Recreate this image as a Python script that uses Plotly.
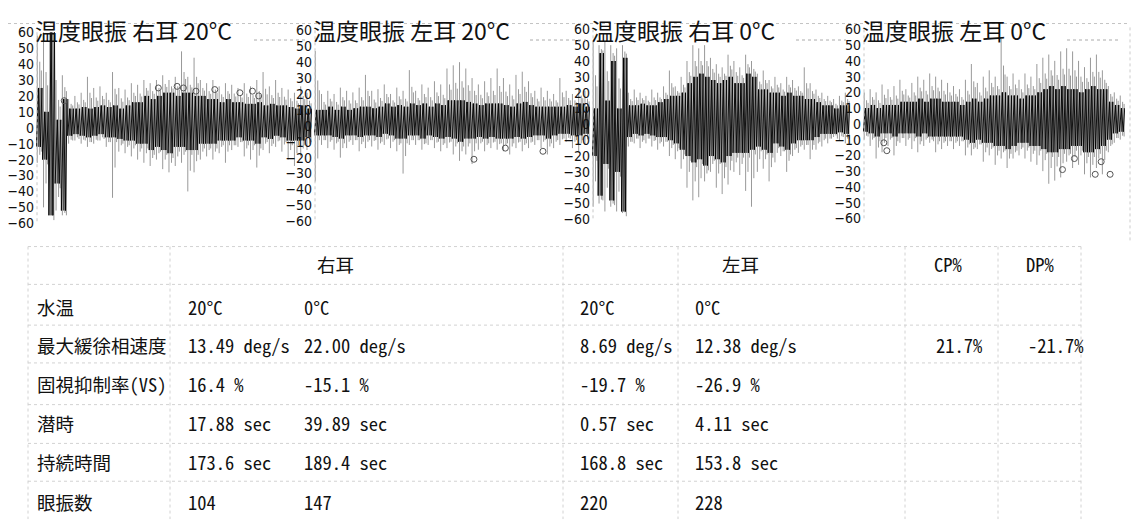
import plotly.graph_objects as go

# ---------------- signal envelopes (deg/s) ----------------
# Panel 1: 右耳 20°C
p1_out_hi = [58, 60, 60, 30, 33, 18, 20, 22, 32, 25, 26, 22, 35, 25, 24, 28, 27, 30, 28, 30, 33, 30,
             32, 48, 32, 44, 30, 28, 30, 26, 28, 27, 25, 28, 26, 30, 35, 26, 30, 25, 24, 22, 26, 22]
p1_out_lo = [-22, -50, -55, -52, -55, -10, -8, -10, -12, -10, -8, -12, -44, -15, -16, -18, -20, -22, -24, -20, -26, -28,
             -24, -22, -40, -28, -20, -18, -20, -16, -22, -14, -12, -18, -20, -25, -14, -16, -12, -15, -20, -24, -18, -14]
p1_core_hi = [25, 10, 60, 5, 18, 12, 12, 13, 12, 13, 14, 13, 14, 12, 14, 16, 16, 20, 18, 20, 22, 22,
              20, 22, 22, 20, 20, 18, 18, 16, 18, 16, 16, 15, 15, 16, 14, 15, 14, 14, 13, 12, 14, 12]
p1_core_lo = [-12, -20, -55, -35, -52, -5, -4, -5, -6, -5, -4, -6, -6, -7, -8, -8, -10, -10, -14, -12, -14, -16,
              -12, -12, -14, -14, -10, -10, -10, -8, -8, -8, -6, -8, -8, -10, -6, -7, -5, -6, -8, -8, -8, -6]
p1_circ_bin = [4, 19, 22, 23, 25, 28, 32, 34, 35]
p1_circ_val = [17, 25, 26, 25, 23, 24, 22, 23, 20]

# Panel 2: 左耳 20°C
p2_out_hi = [47, 20, 22, 20, 24, 22, 21, 24, 32, 22, 23, 26, 20, 24, 22, 35, 22, 26, 24, 28, 26, 36,
             38, 40, 36, 30, 26, 28, 30, 36, 30, 26, 32, 34, 28, 22, 24, 22, 20, 30, 22, 20, 24, 22]
p2_out_lo = [-35, -12, -14, -15, -20, -14, -12, -16, -14, -13, -15, -12, -14, -16, -30, -12, -12, -15, -12, -14, -16, -14,
             -18, -22, -18, -24, -15, -16, -14, -15, -16, -18, -14, -16, -14, -12, -14, -18, -14, -12, -10, -14, -16, -12]
p2_core_hi = [10, 10, 12, 10, 12, 10, 11, 12, 12, 11, 12, 14, 12, 13, 12, 14, 13, 14, 12, 14, 13, 16,
              16, 16, 15, 14, 13, 14, 14, 14, 13, 12, 14, 15, 13, 12, 12, 12, 12, 12, 13, 12, 14, 12]
p2_core_lo = [-6, -6, -6, -7, -8, -6, -6, -7, -6, -6, -7, -5, -6, -8, -8, -6, -6, -8, -6, -7, -8, -7,
              -8, -10, -8, -8, -7, -8, -7, -8, -8, -8, -7, -8, -7, -6, -6, -8, -6, -5, -5, -6, -6, -5]
p2_circ_bin = [25, 30, 36]
p2_circ_val = [-21, -14, -16]

# Panel 3: 右耳 0°C
p3_out_hi = [52, 50, 52, 50, 48, 50, 20, 22, 20, 18, 22, 20, 24, 34, 24, 30, 40, 50, 48, 50, 42, 38,
             36, 44, 40, 36, 44, 40, 32, 34, 28, 30, 26, 30, 28, 24, 36, 26, 22, 20, 18, 16, 18, 20]
p3_out_lo = [-52, -50, -55, -52, -55, -56, -14, -12, -15, -12, -14, -16, -14, -20, -22, -28, -40, -48, -46, -36, -30, -40,
             -44, -38, -30, -32, -42, -52, -30, -28, -36, -24, -20, -30, -20, -18, -16, -22, -16, -14, -12, -8, -10, -12]
p3_core_hi = [10, 45, 15, 40, 10, 42, 12, 12, 13, 12, 12, 14, 16, 18, 18, 20, 26, 30, 32, 30, 28, 26,
              28, 30, 26, 26, 32, 30, 22, 22, 20, 20, 18, 20, 18, 18, 16, 16, 14, 12, 12, 10, 12, 12]
p3_core_lo = [-20, -45, -25, -48, -30, -55, -8, -6, -7, -6, -7, -8, -8, -10, -12, -16, -20, -24, -22, -26, -20, -22,
              -24, -20, -18, -18, -18, -16, -14, -16, -18, -12, -14, -16, -12, -10, -10, -10, -8, -6, -6, -6, -5, -6]
p3_circ_bin = []
p3_circ_val = []

# Panel 4: 左耳 0°C
p4_out_hi = [20, 22, 20, 25, 22, 24, 28, 22, 26, 30, 28, 32, 30, 28, 26, 24, 22, 28, 38, 26, 30, 34,
             30, 54, 30, 32, 28, 32, 30, 38, 42, 44, 40, 46, 48, 46, 40, 36, 42, 44, 34, 24, 20, 18]
p4_out_lo = [-10, -14, -22, -18, -14, -20, -12, -14, -16, -18, -14, -12, -18, -16, -14, -16, -14, -20, -20, -16, -24, -20,
             -26, -22, -28, -22, -20, -22, -24, -26, -30, -38, -36, -34, -24, -28, -26, -32, -34, -28, -32, -18, -12, -10]
p4_core_hi = [10, 12, 10, 12, 12, 12, 14, 14, 14, 16, 14, 16, 16, 14, 14, 14, 12, 14, 16, 14, 16, 18,
              18, 20, 18, 18, 16, 18, 18, 20, 22, 24, 22, 24, 22, 22, 20, 22, 24, 22, 22, 14, 12, 10]
p4_core_lo = [-5, -6, -8, -6, -6, -8, -6, -6, -6, -8, -6, -8, -8, -8, -8, -8, -8, -10, -12, -10, -12, -12,
              -14, -14, -16, -14, -12, -12, -14, -14, -16, -18, -18, -16, -16, -14, -14, -18, -18, -16, -14, -10, -6, -5]
p4_circ_bin = [3, 3.5, 33, 35, 38.5, 39.5, 41]
p4_circ_val = [-12, -17, -29, -22, -32, -24, -32]

panel_titles = ["温度眼振 右耳 20°C", "温度眼振 左耳 20°C", "温度眼振 右耳 0°C", "温度眼振 左耳 0°C"]
y_ticks = [-60, -50, -40, -30, -20, -10, 0, 10, 20, 30, 40, 50, 60]

# ---------------- table ----------------
row_labels = ["水温", "最大緩徐相速度", "固視抑制率(VS)", "潜時", "持続時間", "眼振数"]
right_20 = ["20°C", "13.49 deg/s", "16.4 %", "17.88 sec", "173.6 sec", "104"]
right_0 = ["0°C", "22.00 deg/s", "-15.1 %", "39.89 sec", "189.4 sec", "147"]
left_20 = ["20°C", "8.69 deg/s", "-19.7 %", "0.57 sec", "168.8 sec", "220"]
left_0 = ["0°C", "12.38 deg/s", "-26.9 %", "4.11 sec", "153.8 sec", "228"]
cp_col = ["", "21.7%", "", "", "", ""]
dp_col = ["", "-21.7%", "", "", "", ""]
group_headers = ["右耳", "左耳", "CP%", "DP%"]

# ---------------- layout geometry (pixels) ----------------
W, H = 1135, 529
def fx(p):
    return p / W
def fy(p):
    return 1 - p / H

panel_geo = [  # x0, x1, y(60), y(-60)
    (36, 312, 25, 222),
    (314, 590, 23, 220),
    (592, 850, 22, 218),
    (863, 1125, 22, 217),
]
panel_data = [
    (p1_out_hi, p1_out_lo, p1_core_hi, p1_core_lo, p1_circ_bin, p1_circ_val),
    (p2_out_hi, p2_out_lo, p2_core_hi, p2_core_lo, p2_circ_bin, p2_circ_val),
    (p3_out_hi, p3_out_lo, p3_core_hi, p3_core_lo, p3_circ_bin, p3_circ_val),
    (p4_out_hi, p4_out_lo, p4_core_hi, p4_core_lo, p4_circ_bin, p4_circ_val),
]

fig = go.Figure()
tick_font = dict(family="Liberation Sans Narrow, Arial Narrow, DejaVu Sans Condensed, Liberation Sans, sans-serif",
                 size=14, color="#111")
layout_axes = {}
for k, ((x0, x1, yt, yb), (ohi, olo, chi, clo, cb, cv)) in enumerate(zip(panel_geo, panel_data), start=1):
    n = len(ohi)
    idx = list(range(n))
    xa = "x" if k == 1 else f"x{k}"
    ya = "y" if k == 1 else f"y{k}"
    # outer (light) strokes
    lx, ly = [], []
    for i in idx:
        lx += [i - 0.3, i - 0.3, None, i + 0.1, i + 0.1, None, i + 0.35, i + 0.35, None]
        ly += [olo[i], ohi[i], None, (olo[i] + clo[i]) / 2, (ohi[i] + chi[i]) / 2, None,
               clo[i] - 3, (ohi[i] + 2 * chi[i]) / 3, None]
    fig.add_trace(go.Scatter(x=lx, y=ly, mode="lines", line=dict(color="#999", width=1),
                             xaxis=xa, yaxis=ya, hoverinfo="skip", showlegend=False))
    # dark core band
    fig.add_trace(go.Bar(x=idx, y=[h - l for h, l in zip(chi, clo)], base=clo, width=0.5,
                         marker=dict(color="#333", line=dict(width=0)), opacity=0.85,
                         xaxis=xa, yaxis=ya, hoverinfo="skip", showlegend=False))
    # ragged zig-zag over core
    zx, zy = [], []
    for i in idx:
        zx += [i - 0.45, i - 0.1, i + 0.2, i + 0.45]
        zy += [clo[i], chi[i], clo[i], chi[i]]
    fig.add_trace(go.Scatter(x=zx, y=zy, mode="lines", line=dict(color="#000", width=0.9),
                             xaxis=xa, yaxis=ya, hoverinfo="skip", showlegend=False))
    if cb:
        fig.add_trace(go.Scatter(x=cb, y=cv, mode="markers",
                                 marker=dict(symbol="circle-open", size=6, color="#555", line=dict(width=1)),
                                 xaxis=xa, yaxis=ya, hoverinfo="skip", showlegend=False))
    xkey = "xaxis" if k == 1 else f"xaxis{k}"
    ykey = "yaxis" if k == 1 else f"yaxis{k}"
    layout_axes[xkey] = dict(domain=[fx(x0), fx(x1)], range=[-0.5, n - 0.5], visible=False,
                             anchor=ya, fixedrange=True)
    layout_axes[ykey] = dict(domain=[fy(yb), fy(yt)], range=[-60, 60], anchor=xa,
                             tickvals=y_ticks, ticks="", showgrid=False, zeroline=False,
                             showline=False, tickfont=tick_font, ticklabelstandoff=1, fixedrange=True)

shapes = []
annotations = []
title_font = dict(family="Noto Sans CJK JP, sans-serif", size=23, color="#111")
title_w = [214, 212, 200, 200]
for (x0, x1, yt, yb), t, tw in zip(panel_geo, panel_titles, title_w):
    annotations.append(dict(text=t, x=fx(x0 - 3), y=fy(23), xref="paper", yref="paper",
                            xanchor="left", yanchor="middle", showarrow=False, font=title_font))
    shapes.append(dict(type="line", xref="paper", yref="paper", x0=fx(x0 + tw + 4), x1=fx(x1 - 4),
                       y0=fy(33), y1=fy(33), line=dict(color="#aaa", width=1, dash="dot")))
    shapes.append(dict(type="line", xref="paper", yref="paper", x0=fx(x0 + 1), x1=fx(x0 + 1),
                       y0=fy(yt), y1=fy(yb), line=dict(color="#c8c8c8", width=1, dash="dot")))
shapes.append(dict(type="line", xref="paper", yref="paper", x0=fx(8), x1=fx(1128), y0=fy(16), y1=fy(16),
                   line=dict(color="#c4c4c4", width=1, dash="dot")))
shapes.append(dict(type="line", xref="paper", yref="paper", x0=fx(1130), x1=fx(1130), y0=fy(20), y1=fy(240),
                   line=dict(color="#ccc", width=1, dash="dot")))

# table grid
grid_col = "#d2d2d2"
for gx in [28, 170, 563, 678, 905, 998, 1081]:
    shapes.append(dict(type="line", xref="paper", yref="paper", x0=fx(gx), x1=fx(gx), y0=fy(246), y1=fy(527),
                       line=dict(color=grid_col, width=1, dash="dot")))
for gy in [246, 285, 327, 366, 409, 449, 488]:
    shapes.append(dict(type="line", xref="paper", yref="paper", x0=fx(28), x1=fx(1081), y0=fy(gy), y1=fy(gy),
                       line=dict(color=grid_col, width=1, dash="dot")))

table_font = dict(family="Noto Sans Mono CJK JP, Noto Sans CJK JP, monospace", size=18.5, color="#111")
header_x = [335, 740, 948, 1040]
for hx, htxt in zip(header_x, group_headers):
    annotations.append(dict(text=htxt, x=fx(hx), y=fy(264), xref="paper", yref="paper",
                            xanchor="center", yanchor="middle", showarrow=False, font=table_font))
row_y = [308, 347, 388, 428, 468, 509]
col_x = [35, 186, 302, 578, 693, 934, 1026]
cols = [row_labels, right_20, right_0, left_20, left_0, cp_col, dp_col]
for cx, col in zip(col_x, cols):
    for ry, txt in zip(row_y, col):
        if txt:
            annotations.append(dict(text=txt, x=fx(cx), y=fy(ry), xref="paper", yref="paper",
                                    xanchor="left", yanchor="middle", showarrow=False, font=table_font))

fig.update_layout(width=W, height=H, margin=dict(l=0, r=0, t=0, b=0), paper_bgcolor="white",
                  plot_bgcolor="rgba(0,0,0,0)", barmode="overlay", shapes=shapes, annotations=annotations,
                  **layout_axes)
fig.write_html("out.html", config={"displayModeBar": False},
               post_script="document.body.style.margin='0';document.body.style.overflow='hidden';")
